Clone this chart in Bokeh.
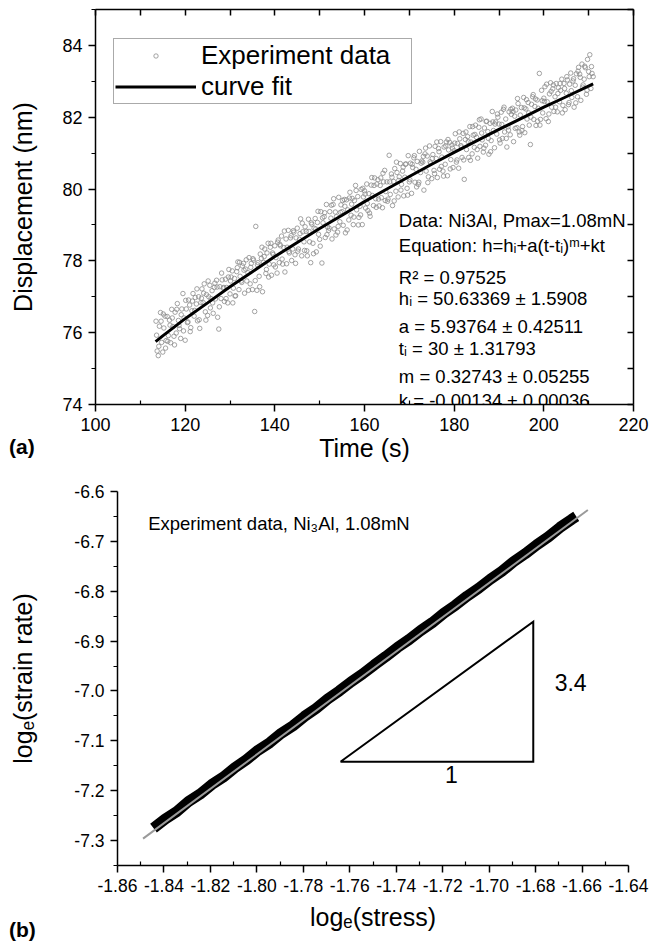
from bokeh.plotting import figure
from bokeh.models import (LinearAxis, FixedTicker, Legend, LegendItem, Label,
                          NumeralTickFormatter, Range1d, Div)
from bokeh.embed import file_html
from bokeh.resources import INLINE

FONT = "Liberation Sans"

# ---------------- panel (a) data ----------------
time_s = [
    113.5, 113.75,
    114.0, 114.25, 114.5, 114.75, 115.0, 115.25, 115.5, 115.75,
    116.0, 116.25, 116.5, 116.75, 117.0, 117.25, 117.5, 117.75,
    118.0, 118.25, 118.5, 118.75, 119.0, 119.25, 119.5, 119.75,
    120.0, 120.25, 120.5, 120.75, 121.0, 121.25, 121.5, 121.75,
    122.0, 122.25, 122.5, 122.75, 123.0, 123.25, 123.5, 123.75,
    124.0, 124.25, 124.5, 124.75, 125.0, 125.25, 125.5, 125.75,
    126.0, 126.25, 126.5, 126.75, 127.0, 127.25, 127.5, 127.75,
    128.0, 128.25, 128.5, 128.75, 129.0, 129.25, 129.5, 129.75,
    130.0, 130.25, 130.5, 130.75, 131.0, 131.25, 131.5, 131.75,
    132.0, 132.25, 132.5, 132.75, 133.0, 133.25, 133.5, 133.75,
    134.0, 134.25, 134.5, 134.75, 135.0, 135.25, 135.5, 135.75,
    136.0, 136.25, 136.5, 136.75, 137.0, 137.25, 137.5, 137.75,
    138.0, 138.25, 138.5, 138.75, 139.0, 139.25, 139.5, 139.75,
    140.0, 140.25, 140.5, 140.75, 141.0, 141.25, 141.5, 141.75,
    142.0, 142.25, 142.5, 142.75, 143.0, 143.25, 143.5, 143.75,
    144.0, 144.25, 144.5, 144.75, 145.0, 145.25, 145.5, 145.75,
    146.0, 146.25, 146.5, 146.75, 147.0, 147.25, 147.5, 147.75,
    148.0, 148.25, 148.5, 148.75, 149.0, 149.25, 149.5, 149.75,
    150.0, 150.25, 150.5, 150.75, 151.0, 151.25, 151.5, 151.75,
    152.0, 152.25, 152.5, 152.75, 153.0, 153.25, 153.5, 153.75,
    154.0, 154.25, 154.5, 154.75, 155.0, 155.25, 155.5, 155.75,
    156.0, 156.25, 156.5, 156.75, 157.0, 157.25, 157.5, 157.75,
    158.0, 158.25, 158.5, 158.75, 159.0, 159.25, 159.5, 159.75,
    160.0, 160.25, 160.5, 160.75, 161.0, 161.25, 161.5, 161.75,
    162.0, 162.25, 162.5, 162.75, 163.0, 163.25, 163.5, 163.75,
    164.0, 164.25, 164.5, 164.75, 165.0, 165.25, 165.5, 165.75,
    166.0, 166.25, 166.5, 166.75, 167.0, 167.25, 167.5, 167.75,
    168.0, 168.25, 168.5, 168.75, 169.0, 169.25, 169.5, 169.75,
    170.0, 170.25, 170.5, 170.75, 171.0, 171.25, 171.5, 171.75,
    172.0, 172.25, 172.5, 172.75, 173.0, 173.25, 173.5, 173.75,
    174.0, 174.25, 174.5, 174.75, 175.0, 175.25, 175.5, 175.75,
    176.0, 176.25, 176.5, 176.75, 177.0, 177.25, 177.5, 177.75,
    178.0, 178.25, 178.5, 178.75, 179.0, 179.25, 179.5, 179.75,
    180.0, 180.25, 180.5, 180.75, 181.0, 181.25, 181.5, 181.75,
    182.0, 182.25, 182.5, 182.75, 183.0, 183.25, 183.5, 183.75,
    184.0, 184.25, 184.5, 184.75, 185.0, 185.25, 185.5, 185.75,
    186.0, 186.25, 186.5, 186.75, 187.0, 187.25, 187.5, 187.75,
    188.0, 188.25, 188.5, 188.75, 189.0, 189.25, 189.5, 189.75,
    190.0, 190.25, 190.5, 190.75, 191.0, 191.25, 191.5, 191.75,
    192.0, 192.25, 192.5, 192.75, 193.0, 193.25, 193.5, 193.75,
    194.0, 194.25, 194.5, 194.75, 195.0, 195.25, 195.5, 195.75,
    196.0, 196.25, 196.5, 196.75, 197.0, 197.25, 197.5, 197.75,
    198.0, 198.25, 198.5, 198.75, 199.0, 199.25, 199.5, 199.75,
    200.0, 200.25, 200.5, 200.75, 201.0, 201.25, 201.5, 201.75,
    202.0, 202.25, 202.5, 202.75, 203.0, 203.25, 203.5, 203.75,
    204.0, 204.25, 204.5, 204.75, 205.0, 205.25, 205.5, 205.75,
    206.0, 206.25, 206.5, 206.75, 207.0, 207.25, 207.5, 207.75,
    208.0, 208.25, 208.5, 208.75, 209.0, 209.25, 209.5, 209.75,
    210.0, 210.25, 210.5, 210.75, 211.0,
]
displacement_nm = [
    76.32, 75.49,
    75.36, 76.18, 76.56, 75.73, 75.46, 76.13, 76.46, 75.78,
    76.45, 75.92, 76.35, 75.72, 76.65, 76.17, 75.90, 76.57,
    75.99, 76.81, 76.34, 76.11, 75.84, 76.66, 77.09, 76.41,
    75.79, 76.66, 76.28, 76.91, 76.77, 76.14, 76.61, 77.09,
    76.46, 76.98, 76.80, 76.33, 77.00, 76.12, 76.84, 77.22,
    76.84, 77.36, 76.58, 77.06, 76.48, 77.00, 77.32, 76.95,
    77.17, 76.54, 77.26, 76.94, 77.46, 76.43, 76.10, 77.28,
    76.95, 77.47, 77.24, 76.87, 77.49, 77.26, 76.83, 77.76,
    77.08, 77.55, 77.72, 77.24, 77.51, 77.03, 77.70, 77.97,
    77.20, 77.57, 77.44, 77.86, 77.93, 77.10, 77.77, 77.44,
    77.67, 78.09, 77.36, 77.93, 77.20, 78.02, 76.59, 78.96,
    77.18, 77.95, 77.57, 78.19, 78.07, 77.14, 77.96, 78.33,
    77.65, 78.22, 78.49, 77.91, 78.38, 77.60, 78.22, 77.89,
    78.42, 78.09, 77.66, 78.58, 77.95, 78.42, 78.69, 77.91,
    78.37, 77.69, 78.61, 78.38, 78.85, 78.22, 78.64, 78.01,
    78.33, 78.80, 78.17, 78.64, 78.91, 78.33, 78.60, 79.17,
    78.14, 78.81, 78.53, 78.95, 78.82, 78.14, 79.16, 78.53,
    77.95, 79.02, 78.49, 78.91, 79.18, 78.25, 79.07, 78.74,
    78.60, 79.37, 77.94, 79.06, 79.23, 78.65, 79.57, 78.94,
    78.85, 79.37, 79.19, 78.61, 79.57, 78.89, 79.36, 79.23,
    78.80, 79.77, 79.09, 79.56, 79.37, 78.99, 79.71, 78.78,
    79.70, 79.42, 79.14, 79.91, 79.27, 79.74, 79.01, 79.68,
    80.10, 79.42, 79.79, 79.21, 79.52, 79.99, 79.01, 79.78,
    79.95, 79.47, 80.14, 79.40, 79.87, 79.24, 80.11, 79.82,
    79.54, 80.31, 79.73, 80.14, 80.26, 79.53, 80.10, 79.76,
    79.48, 80.20, 80.52, 79.93, 80.20, 79.72, 80.94, 79.85,
    80.42, 79.54, 80.21, 80.57, 79.94, 80.46, 79.78, 80.34,
    80.71, 80.13, 80.50, 79.81, 80.33, 80.70, 80.02, 80.93,
    80.20, 80.72, 79.88, 80.60, 80.87, 80.19, 80.55, 80.77,
    80.13, 81.05, 80.46, 80.78, 80.75, 79.97, 80.98, 80.50,
    80.92, 80.34, 81.20, 80.72, 80.29, 80.96, 80.52, 81.19,
    80.85, 80.32, 81.13, 80.55, 81.32, 80.89, 80.50, 81.17,
    80.69, 81.31, 80.37, 81.09, 81.30, 80.82, 81.23, 80.60,
    81.07, 81.54, 80.75, 81.27, 80.58, 81.40, 81.21, 80.88,
    81.55, 80.27, 81.38, 81.10, 81.46, 80.88, 81.74, 81.31,
    80.98, 81.50, 81.16, 81.78, 81.44, 80.86, 81.72, 81.19,
    81.95, 81.37, 81.03, 81.70, 81.22, 81.89, 81.60, 80.97,
    81.83, 81.35, 82.16, 81.63, 81.15, 81.87, 81.53, 82.00,
    81.81, 81.28, 82.14, 81.41, 82.22, 81.59, 81.95, 81.17,
    81.73, 82.15, 81.51, 82.08, 82.25, 81.32, 82.03, 82.20,
    81.71, 82.38, 81.59, 82.06, 82.27, 81.74, 82.55, 81.57,
    82.23, 81.95, 82.41, 81.78, 81.24, 82.36, 82.57, 81.94,
    82.30, 81.77, 82.48, 82.25, 83.22, 81.94, 82.75, 82.12,
    82.53, 82.85, 81.96, 82.43, 81.88, 82.65, 82.96, 82.28,
    82.79, 82.16, 82.57, 82.94, 82.15, 82.82, 82.43, 82.75,
    83.06, 82.33, 82.94, 82.21, 82.67, 83.04, 82.35, 82.92,
    83.23, 82.55, 83.01, 82.28, 82.89, 83.21, 82.57, 83.39,
    83.20, 82.47, 83.48, 82.90, 83.06, 83.38, 82.64, 83.61,
    83.27, 83.74, 82.80, 83.22, 83.13,
]
# in-between samples
time_s_mid = [
    113.625,
    114.125, 114.625, 115.125, 115.625, 116.125, 116.625, 117.125, 117.625,
    118.125, 118.625, 119.125, 119.625, 120.125, 120.625, 121.125, 121.625,
    122.125, 122.625, 123.125, 123.625, 124.125, 124.625, 125.125, 125.625,
    126.125, 126.625, 127.125, 127.625, 128.125, 128.625, 129.125, 129.625,
    130.125, 130.625, 131.125, 131.625, 132.125, 132.625, 133.125, 133.625,
    134.125, 134.625, 135.125, 135.625, 136.125, 136.625, 137.125, 137.625,
    138.125, 138.625, 139.125, 139.625, 140.125, 140.625, 141.125, 141.625,
    142.125, 142.625, 143.125, 143.625, 144.125, 144.625, 145.125, 145.625,
    146.125, 146.625, 147.125, 147.625, 148.125, 148.625, 149.125, 149.625,
    150.125, 150.625, 151.125, 151.625, 152.125, 152.625, 153.125, 153.625,
    154.125, 154.625, 155.125, 155.625, 156.125, 156.625, 157.125, 157.625,
    158.125, 158.625, 159.125, 159.625, 160.125, 160.625, 161.125, 161.625,
    162.125, 162.625, 163.125, 163.625, 164.125, 164.625, 165.125, 165.625,
    166.125, 166.625, 167.125, 167.625, 168.125, 168.625, 169.125, 169.625,
    170.125, 170.625, 171.125, 171.625, 172.125, 172.625, 173.125, 173.625,
    174.125, 174.625, 175.125, 175.625, 176.125, 176.625, 177.125, 177.625,
    178.125, 178.625, 179.125, 179.625, 180.125, 180.625, 181.125, 181.625,
    182.125, 182.625, 183.125, 183.625, 184.125, 184.625, 185.125, 185.625,
    186.125, 186.625, 187.125, 187.625, 188.125, 188.625, 189.125, 189.625,
    190.125, 190.625, 191.125, 191.625, 192.125, 192.625, 193.125, 193.625,
    194.125, 194.625, 195.125, 195.625, 196.125, 196.625, 197.125, 197.625,
    198.125, 198.625, 199.125, 199.625, 200.125, 200.625, 201.125, 201.625,
    202.125, 202.625, 203.125, 203.625, 204.125, 204.625, 205.125, 205.625,
    206.125, 206.625, 207.125, 207.625, 208.125, 208.625, 209.125, 209.625,
    210.125, 210.625,
]
displacement_nm_mid = [
    75.93,
    75.62, 76.32, 76.52, 75.57, 75.76, 76.21, 76.41, 75.66,
    76.65, 76.20, 76.50, 76.05, 76.90, 76.30, 76.03, 76.88,
    76.62, 77.22, 76.36, 76.96, 77.10, 76.35, 77.44, 76.69,
    76.83, 77.38, 77.27, 76.72, 77.66, 77.26, 76.95, 77.55,
    77.44, 76.83, 77.02, 77.81, 77.96, 77.40, 77.74, 78.03,
    77.18, 77.82, 78.06, 77.45, 77.89, 77.28, 78.38, 78.12,
    77.76, 77.55, 78.49, 78.18, 77.83, 78.52, 78.46, 78.05,
    78.83, 77.92, 78.26, 78.70, 78.84, 77.93, 78.27, 78.76,
    79.05, 78.29, 78.28, 78.82, 79.06, 78.20, 78.89, 79.38,
    78.41, 79.20, 79.34, 78.73, 78.91, 79.55, 79.73, 78.72,
    78.96, 79.35, 79.68, 79.52, 78.86, 79.75, 79.58, 79.22,
    79.96, 79.00, 79.28, 80.02, 79.86, 79.60, 79.33, 80.32,
    80.10, 79.49, 79.72, 80.31, 80.44, 79.68, 79.66, 80.20,
    80.33, 79.67, 80.75, 80.24, 79.97, 80.61, 80.69, 79.83,
    80.26, 80.69, 80.93, 80.06, 80.19, 80.72, 80.91, 81.14,
    80.18, 80.76, 80.85, 80.43, 81.31, 81.04, 80.63, 80.36,
    81.20, 81.38, 80.56, 81.14, 81.28, 80.81, 81.59, 81.17,
    80.81, 81.59, 81.32, 80.80, 81.74, 81.52, 81.10, 81.93,
    81.56, 81.14, 81.88, 81.41, 81.04, 81.87, 81.81, 82.09,
    81.37, 81.80, 82.28, 81.41, 81.64, 82.22, 82.16, 81.69,
    82.52, 81.50, 81.63, 82.26, 82.49, 82.12, 82.00, 82.63,
    82.51, 81.89, 81.78, 82.46, 82.44, 82.92, 82.09, 82.72,
    82.90, 82.28, 82.66, 82.94, 82.12, 82.80, 83.13, 82.41,
    82.74, 83.07, 82.40, 83.28, 83.11, 82.84, 83.42, 82.75,
    83.13, 83.41,
]
fit_time = [113.4, 115, 120, 125, 130, 135, 140, 145, 150, 155, 160,
            165, 170, 175, 180, 185, 190, 195, 200, 205, 211]
fit_disp = [75.75, 75.91, 76.39, 76.83, 77.28, 77.70, 78.12, 78.51, 78.90,
            79.27, 79.65, 80.00, 80.35, 80.69, 81.02, 81.34, 81.66, 81.97,
            82.28, 82.57, 82.93]
fit_text = [
    "Data: Ni3Al, Pmax=1.08mN",
    "Equation: h=h\u1d62+a(t-t\u1d62)\u1d50+kt",
    "R\u00b2 = 0.97525",
    "h\u1d62 = 50.63369 \u00b1 1.5908",
    "a = 5.93764 \u00b1 0.42511",
    "t\u1d62 = 30 \u00b1 1.31793",
    "m = 0.32743 \u00b1 0.05255",
    "k = -0.00134 \u00b1 0.00036",
]
fit_text_y = [79.13, 78.43, 77.55, 76.95, 76.16, 75.56, 74.77, 74.12]
a_x_major = [100, 120, 140, 160, 180, 200, 220]
a_x_minor = [110, 130, 150, 170, 190, 210]
a_y_major = [74, 76, 78, 80, 82, 84]
a_y_minor = [75, 77, 79, 81, 83, 85]

# ---------------- panel (b) data ----------------
log_stress = [-1.8445, -1.8395, -1.8345, -1.8295, -1.8245, -1.8195, -1.8145,
              -1.8095, -1.8045, -1.7995, -1.7945, -1.7895, -1.7845, -1.7795,
              -1.7745, -1.7695, -1.7645, -1.7595, -1.7545, -1.7495, -1.7445,
              -1.7395, -1.7345, -1.7295, -1.7245, -1.7195, -1.7145, -1.7095,
              -1.7045, -1.6995, -1.6945, -1.6895, -1.6845, -1.6795, -1.6745,
              -1.6695, -1.6645, -1.6625]
log_strain_rate = [-7.275, -7.257, -7.242, -7.222, -7.207, -7.188, -7.173,
                   -7.154, -7.138, -7.119, -7.104, -7.085, -7.070, -7.051,
                   -7.035, -7.016, -7.000, -6.982, -6.966, -6.948, -6.931,
                   -6.913, -6.897, -6.879, -6.863, -6.844, -6.828, -6.810,
                   -6.794, -6.776, -6.760, -6.741, -6.725, -6.707, -6.691,
                   -6.672, -6.656, -6.650]
linfit_x = [-1.849, -1.6575]
linfit_y = [-7.296, -6.637]
tri_x = [-1.764, -1.681, -1.681, -1.764]
tri_y = [-7.142, -7.142, -6.861, -7.142]
b_x_major = [-1.86, -1.84, -1.82, -1.80, -1.78, -1.76, -1.74, -1.72, -1.70,
             -1.68, -1.66, -1.64]
b_x_minor = [-1.85, -1.83, -1.81, -1.79, -1.77, -1.75, -1.73, -1.71, -1.69,
             -1.67, -1.65]
b_y_major = [-7.3, -7.2, -7.1, -7.0, -6.9, -6.8, -6.7, -6.6]
b_y_minor = [-7.35, -7.25, -7.15, -7.05, -6.95, -6.85, -6.75, -6.65]


def style_axis(ax, label_size, tick_size):
    ax.axis_line_color = "black"
    ax.axis_line_width = 1.5
    ax.major_tick_line_color = "black"
    ax.major_tick_line_width = 1.5
    ax.minor_tick_line_color = "black"
    ax.minor_tick_line_width = 1.2
    ax.axis_label_text_font = FONT
    ax.axis_label_text_font_style = "normal"
    ax.axis_label_text_font_size = label_size
    ax.axis_label_text_color = "black"
    ax.major_label_text_font = FONT
    ax.major_label_text_font_size = tick_size
    ax.major_label_text_color = "black"


def mirror_axis(ticks):
    ax = LinearAxis(ticker=FixedTicker(ticks=ticks))
    style_axis(ax, "0px", "0px")
    ax.major_label_text_color = None
    ax.major_tick_in = 6
    ax.major_tick_out = 0
    ax.major_label_standoff = 0
    return ax


def panel_tag(text, left, top):
    inner = ('<span style="font-family: \'Liberation Sans\', Arial, sans-serif; '
             'font-size: 21px; font-weight: bold; line-height: 24px; color: black;">'
             '%s</span>' % text)
    return Div(text=inner,
               styles={"position": "absolute", "left": "%dpx" % left, "top": "%dpx" % top,
                       "margin": "0", "padding": "0", "font-size": "21px",
                       "line-height": "24px"})


# ---------------- figure (a) ----------------
pa = figure(width=650, height=470, x_range=Range1d(100, 220), y_range=Range1d(74, 85),
            output_backend="svg", toolbar_location=None,
            min_border_left=95, min_border_right=17, min_border_top=9, min_border_bottom=66)
pa.grid.visible = False
pa.outline_line_color = None

xa = pa.xaxis[0]
xa.ticker = FixedTicker(ticks=a_x_major, minor_ticks=a_x_minor)
xa.axis_label = "Time (s)"
style_axis(xa, "25px", "18px")
xa.major_tick_out = 7
xa.major_tick_in = 0
xa.minor_tick_out = 0
xa.minor_tick_in = 4
xa.major_label_standoff = 6
xa.axis_label_standoff = 0

ya = pa.yaxis[0]
ya.ticker = FixedTicker(ticks=a_y_major, minor_ticks=a_y_minor)
ya.axis_label = "Displacement (nm)"
style_axis(ya, "25px", "18px")
ya.major_tick_out = 7
ya.major_tick_in = 0
ya.minor_tick_out = 4
ya.minor_tick_in = 0
ya.major_label_standoff = 6
ya.axis_label_standoff = 22

pa.add_layout(mirror_axis(a_x_major + a_x_minor), "above")
pa.add_layout(mirror_axis(a_y_major + a_y_minor), "right")

r_pts = pa.scatter(time_s + time_s_mid, displacement_nm + displacement_nm_mid,
                   marker="circle", size=4.5,
                   fill_color=None, line_color="#8c8c8c", line_width=0.8)
r_fit = pa.line(fit_time, fit_disp, line_color="black", line_width=3)

legend = Legend(items=[LegendItem(label="Experiment data", renderers=[r_pts]),
                       LegendItem(label="curve fit", renderers=[r_fit])],
                location=(18, 300), orientation="vertical",
                border_line_color="#555555", border_line_width=1,
                background_fill_color="white", background_fill_alpha=1,
                label_text_font=FONT, label_text_font_size="26px",
                label_text_color="black",
                glyph_width=81, glyph_height=11, label_height=26, label_width=209,
                spacing=-2, padding=1, margin=0, label_standoff=5)
pa.add_layout(legend)

for txt, ty in zip(fit_text, fit_text_y):
    pa.add_layout(Label(x=167.66, y=ty, text=txt, text_font=FONT,
                        text_font_size="18.5px", text_color="black",
                        text_baseline="middle", text_align="left"))

# ---------------- figure (b) ----------------
pb = figure(width=650, height=471, x_range=Range1d(-1.86, -1.64), y_range=Range1d(-7.35, -6.6),
            output_backend="svg", toolbar_location=None,
            min_border_left=117, min_border_right=22, min_border_top=21, min_border_bottom=76)
pb.grid.visible = False
pb.outline_line_color = None

xb = pb.xaxis[0]
xb.ticker = FixedTicker(ticks=b_x_major, minor_ticks=b_x_minor)
xb.formatter = NumeralTickFormatter(format="0.00")
xb.axis_label = "log\u2091(stress)"
style_axis(xb, "25px", "17.5px")
xb.major_tick_out = 7
xb.major_tick_in = 0
xb.minor_tick_out = 0
xb.minor_tick_in = 4
xb.major_label_standoff = 6
xb.axis_label_standoff = 8

yb = pb.yaxis[0]
yb.ticker = FixedTicker(ticks=b_y_major, minor_ticks=b_y_minor)
yb.formatter = NumeralTickFormatter(format="0.0")
yb.axis_label = "log\u2091(strain rate)"
style_axis(yb, "25px", "17.5px")
yb.major_tick_out = 7
yb.major_tick_in = 0
yb.minor_tick_out = 4
yb.minor_tick_in = 0
yb.major_label_standoff = 6
yb.axis_label_standoff = 34

pb.line(log_stress, log_strain_rate, line_color="black", line_width=11, line_cap="butt")
pb.line(linfit_x, linfit_y, line_color="#9a9a9a", line_width=2)
pb.line(tri_x, tri_y, line_color="black", line_width=2, line_join="miter")

pb.add_layout(Label(x=-1.8468, y=-6.664, text="Experiment data, Ni\u2083Al, 1.08mN",
                    text_font=FONT, text_font_size="18.5px", text_color="black",
                    text_baseline="middle", text_align="left"))
pb.add_layout(Label(x=-1.6718, y=-6.983, text="3.4", text_font=FONT,
                    text_font_size="23px", text_color="black",
                    text_baseline="middle", text_align="left"))
pb.add_layout(Label(x=-1.7162, y=-7.167, text="1", text_font=FONT,
                    text_font_size="23px", text_color="black",
                    text_baseline="middle", text_align="center"))

tag_a = panel_tag("(a)", 9, 435)
tag_b = panel_tag("(b)", 9, 918)

open("out.html", "w").write(file_html([pa, pb, tag_a, tag_b], INLINE))
